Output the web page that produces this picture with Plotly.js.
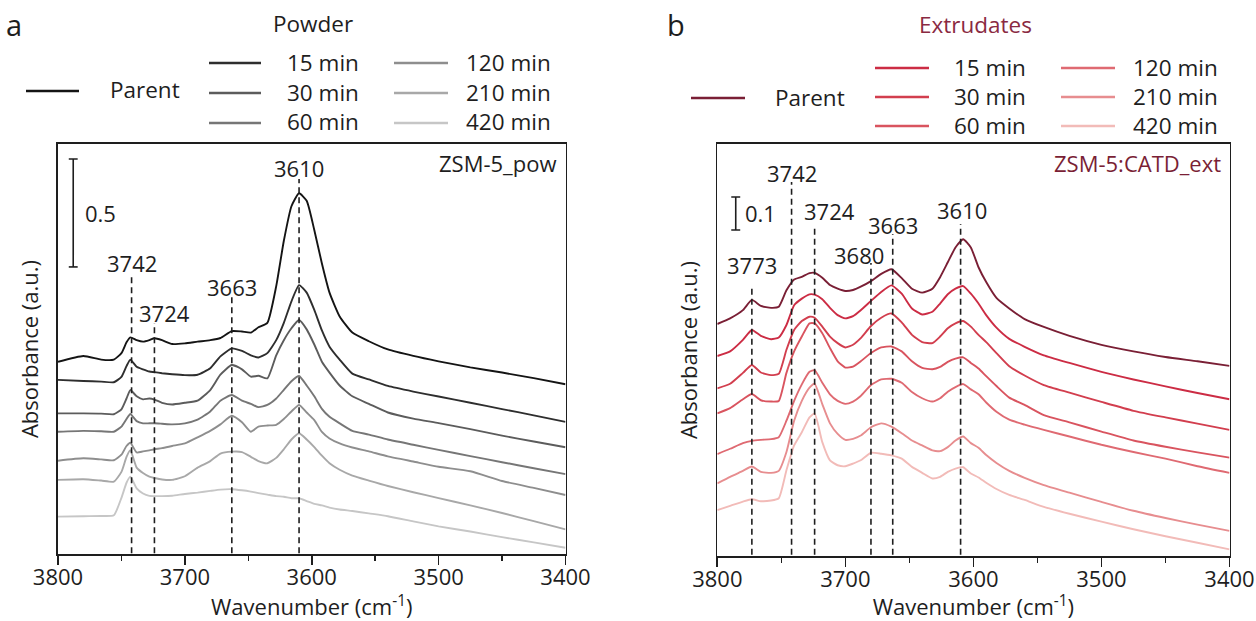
<!DOCTYPE html>
<html><head><meta charset="utf-8">
<script src="https://cdn.plot.ly/plotly-3.0.1.min.js"></script>
<style>html,body{margin:0;padding:0;background:#fff}#chart{width:1256px;height:621px}</style>
</head><body><div id="chart"></div>
<script>
// ---------- data: panel a (Powder) ----------
const wnA = [3800,3780,3766,3756,3750,3746,3743,3738,3733,3728,3724,3718,3710,3700,3690,3680,3672,3663,3655,3648,3642,3635,3628,3622,3616,3610,3604,3598,3592,3586,3578,3568,3555,3540,3520,3500,3475,3450,3425,3400];
const parentA = [0.89,0.917,0.90,0.90,0.93,0.98,1.003,0.99,0.983,0.99,0.999,0.99,0.972,0.975,0.983,0.99,1.00,1.032,1.03,1.025,1.05,1.07,1.24,1.45,1.61,1.67,1.635,1.50,1.345,1.21,1.10,1.025,0.985,0.947,0.917,0.892,0.864,0.84,0.814,0.786];
const min15A = [0.806,0.801,0.798,0.795,0.82,0.87,0.90,0.867,0.855,0.845,0.842,0.837,0.832,0.828,0.83,0.86,0.915,0.952,0.94,0.92,0.91,0.93,0.99,1.07,1.17,1.245,1.21,1.13,1.035,0.96,0.90,0.835,0.808,0.778,0.752,0.729,0.70,0.671,0.642,0.612];
const min30A = [0.651,0.651,0.65,0.647,0.67,0.72,0.759,0.73,0.716,0.72,0.715,0.70,0.692,0.70,0.71,0.759,0.83,0.875,0.855,0.821,0.825,0.813,0.92,0.99,1.045,1.083,1.04,0.97,0.89,0.84,0.78,0.73,0.695,0.655,0.627,0.606,0.578,0.548,0.521,0.494];
const min60A = [0.566,0.57,0.568,0.566,0.59,0.625,0.648,0.615,0.605,0.605,0.605,0.603,0.60,0.605,0.622,0.66,0.71,0.736,0.71,0.695,0.68,0.69,0.72,0.76,0.80,0.824,0.78,0.73,0.672,0.635,0.605,0.57,0.553,0.53,0.506,0.482,0.453,0.425,0.397,0.37];
const min120A = [0.432,0.443,0.438,0.434,0.46,0.50,0.515,0.47,0.475,0.48,0.485,0.49,0.50,0.512,0.54,0.57,0.60,0.64,0.61,0.566,0.59,0.595,0.598,0.625,0.66,0.69,0.655,0.62,0.565,0.535,0.512,0.493,0.475,0.452,0.428,0.404,0.383,0.338,0.306,0.273];
const min210A = [0.343,0.346,0.34,0.335,0.38,0.45,0.481,0.40,0.375,0.358,0.352,0.345,0.343,0.36,0.40,0.43,0.465,0.474,0.472,0.45,0.43,0.42,0.445,0.485,0.53,0.559,0.53,0.495,0.455,0.42,0.39,0.363,0.34,0.315,0.286,0.259,0.225,0.19,0.152,0.114];
const min420A = [0.173,0.175,0.176,0.179,0.26,0.33,0.358,0.304,0.28,0.269,0.268,0.268,0.27,0.278,0.284,0.292,0.298,0.30,0.295,0.289,0.282,0.275,0.268,0.265,0.258,0.258,0.245,0.232,0.225,0.215,0.206,0.199,0.188,0.175,0.151,0.128,0.104,0.078,0.054,0.029];

// ---------- data: panel b (Extrudates) ----------
const wnB = [3800,3790,3780,3773,3766,3758,3752,3746,3740,3734,3728,3724,3718,3712,3706,3700,3694,3688,3680,3672,3664,3656,3648,3640,3632,3626,3620,3614,3608,3602,3596,3590,3582,3572,3560,3545,3525,3500,3475,3450,3425,3400];
const parentB = [0.703,0.72,0.745,0.776,0.758,0.752,0.755,0.805,0.838,0.846,0.857,0.858,0.843,0.821,0.81,0.803,0.806,0.816,0.833,0.855,0.869,0.842,0.81,0.798,0.81,0.845,0.89,0.935,0.96,0.935,0.875,0.83,0.782,0.75,0.718,0.694,0.667,0.64,0.62,0.603,0.59,0.576];
const min15B = [0.606,0.62,0.655,0.685,0.667,0.657,0.662,0.70,0.76,0.78,0.793,0.792,0.778,0.752,0.73,0.72,0.727,0.745,0.773,0.80,0.82,0.795,0.75,0.732,0.74,0.765,0.793,0.81,0.818,0.795,0.765,0.73,0.692,0.658,0.634,0.608,0.585,0.558,0.535,0.514,0.494,0.475];
const min30B = [0.508,0.522,0.555,0.579,0.556,0.548,0.552,0.625,0.685,0.712,0.725,0.722,0.695,0.665,0.645,0.632,0.64,0.66,0.697,0.722,0.735,0.708,0.67,0.648,0.645,0.665,0.69,0.705,0.712,0.695,0.67,0.648,0.615,0.575,0.547,0.518,0.495,0.467,0.44,0.42,0.401,0.382];
const min60B = [0.432,0.448,0.475,0.491,0.472,0.468,0.47,0.555,0.62,0.665,0.705,0.705,0.675,0.63,0.59,0.571,0.574,0.59,0.615,0.632,0.635,0.62,0.59,0.57,0.566,0.573,0.588,0.598,0.602,0.585,0.568,0.545,0.515,0.48,0.458,0.427,0.405,0.377,0.35,0.331,0.314,0.298];
const min120B = [0.309,0.325,0.342,0.349,0.352,0.354,0.36,0.41,0.47,0.52,0.558,0.563,0.525,0.49,0.47,0.461,0.468,0.485,0.518,0.535,0.537,0.525,0.497,0.478,0.468,0.478,0.498,0.512,0.521,0.505,0.49,0.465,0.437,0.413,0.398,0.382,0.362,0.337,0.315,0.295,0.272,0.252];
const min210B = [0.22,0.24,0.258,0.271,0.255,0.252,0.258,0.315,0.41,0.47,0.51,0.522,0.46,0.402,0.37,0.352,0.355,0.365,0.39,0.402,0.392,0.372,0.35,0.335,0.32,0.318,0.33,0.35,0.362,0.342,0.328,0.306,0.282,0.258,0.237,0.215,0.192,0.164,0.137,0.115,0.095,0.076];
const min420B = [0.139,0.152,0.165,0.172,0.166,0.168,0.175,0.26,0.335,0.375,0.42,0.432,0.345,0.29,0.275,0.272,0.28,0.29,0.313,0.31,0.305,0.295,0.27,0.252,0.235,0.24,0.255,0.265,0.269,0.25,0.238,0.222,0.203,0.185,0.17,0.149,0.128,0.104,0.081,0.06,0.04,0.02];

const seriesNames = ['Parent','15 min','30 min','60 min','120 min','210 min','420 min'];
const peaksA = [3742,3724,3663,3610];
const peaksB = [3773,3742,3724,3680,3663,3610];
const xTickVals = [3800,3700,3600,3500,3400];
const scaleBarA = 0.5;
const scaleBarB = 0.1;

// ---------- styling / positions ----------
const colorsA = ['#141414','#2e2e2e','#5c5c5c','#767676','#8e8e8e','#a8a8a8','#c6c6c6'];
const colorsB = ['#7a1f35','#cc2c44','#d23e4e','#d9545f','#df6a72','#e78d8f','#f2bbb8'];
const W = 1256, H = 621;
const px = v => v / W, py = v => 1 - v / H;
const FONT = 'Open Sans, Noto Sans, sans-serif';
const INK = '#1e1e1e';
const FS = 22;      // general text size
const FS_LEG = 22.5;  // legend text size

const seriesA = [parentA, min15A, min30A, min60A, min120A, min210A, min420A];
const seriesB = [parentB, min15B, min30B, min60B, min120B, min210B, min420B];

const traces = [];
seriesA.forEach((ys, i) => traces.push({x: wnA, y: ys, xaxis: 'x', yaxis: 'y', mode: 'lines', name: seriesNames[i],
  line: {color: colorsA[i], width: 1.9, shape: 'spline', smoothing: 0.5}, hoverinfo: 'x+y+name'}));
seriesB.forEach((ys, i) => traces.push({x: wnB, y: ys, xaxis: 'x2', yaxis: 'y2', mode: 'lines', name: seriesNames[i],
  line: {color: colorsB[i], width: 1.9, shape: 'spline', smoothing: 0.5}, hoverinfo: 'x+y+name'}));

// peak line tops / label placement (data units of each panel)
const peakTopA = [1.282, 1.069, 1.19, 1.736];
const peakLabYA = [1.347, 1.116, 1.236, 1.787];
const peakLabDxA = [0, 10, 0, 0];
const peakTopB = [0.821, 1.133, 1.0, 0.888, 0.976, 1.006];
const peakLabYB = [0.882, 1.161, 1.045, 0.912, 1.003, 1.048];
const peakLabDxB = [0, 0, 15, -12, 0, 1];

const shapes = [];
const annotations = [];
function txt(o) { // text helper: explicit anchors
  return Object.assign({showarrow: false, xanchor: 'center', yanchor: 'middle'}, o);
}
const dash = {color: '#1e1e1e', width: 1.6, dash: '6px,4px'};
peaksA.forEach((p, i) => {
  shapes.push({type: 'line', xref: 'x', yref: 'y', x0: p, x1: p, y0: 0.004, y1: peakTopA[i], line: dash});
  annotations.push(txt({xref: 'x', yref: 'y', x: p, y: peakLabYA[i], xshift: peakLabDxA[i], text: String(p), font: {size: FS}}));
});
peaksB.forEach((p, i) => {
  shapes.push({type: 'line', xref: 'x2', yref: 'y2', x0: p, x1: p, y0: 0.004, y1: peakTopB[i], line: dash});
  annotations.push(txt({xref: 'x2', yref: 'y2', x: p, y: peakLabYB[i], xshift: peakLabDxB[i], text: String(p), font: {size: FS}}));
});

// scale bars
function scaleBar(xr, yr, xc, ybot, val, capHalf, txtX) {
  const ln = {color: '#1e1e1e', width: 1.6};
  shapes.push({type: 'line', xref: xr, yref: yr, x0: xc, x1: xc, y0: ybot, y1: ybot + val, line: ln});
  shapes.push({type: 'line', xref: xr, yref: yr, x0: xc + capHalf, x1: xc - capHalf, y0: ybot, y1: ybot, line: ln});
  shapes.push({type: 'line', xref: xr, yref: yr, x0: xc + capHalf, x1: xc - capHalf, y0: ybot + val, y1: ybot + val, line: ln});
  annotations.push(txt({xref: xr, yref: yr, x: txtX, y: ybot + val / 2, xanchor: 'left', text: String(val), font: {size: FS}}));
}
scaleBar('x', 'y', 3788, 1.329, scaleBarA, 3.5, 3780.5);
scaleBar('x2', 'y2', 3785.6, 0.988, scaleBarB, 3.5, 3779.7);

// sample labels inside frames
annotations.push(txt({xref: 'paper', yref: 'paper', x: px(558), y: py(163), xanchor: 'right', text: 'ZSM-5_pow', font: {size: FS}}));
annotations.push(txt({xref: 'paper', yref: 'paper', x: px(1223), y: py(163), xanchor: 'right', text: 'ZSM-5:CATD_ext', font: {size: FS, color: '#7a1f35'}}));

// panel letters and legend titles
annotations.push(txt({xref: 'paper', yref: 'paper', x: px(14), y: py(25), text: 'a', font: {size: 29}}));
annotations.push(txt({xref: 'paper', yref: 'paper', x: px(676), y: py(25), text: 'b', font: {size: 29}}));
annotations.push(txt({xref: 'paper', yref: 'paper', x: px(312.5), y: py(24), text: 'Powder', font: {size: FS_LEG}}));
annotations.push(txt({xref: 'paper', yref: 'paper', x: px(975), y: py(25), text: 'Extrudates', font: {size: FS_LEG, color: '#8a2a42'}}));

// custom legends (line sample + label) built from series names/colours
function legendBlock(colors, cfg) {
  const place = (i) => {
    if (i === 0) return [cfg.pLine, cfg.pText, cfg.pY];
    const col = i <= 3 ? 0 : 1;
    const row = (i - 1) % 3;
    return [cfg.cols[col].line, cfg.cols[col].text, cfg.rows[row]];
  };
  seriesNames.forEach((name, i) => {
    const [ln, tx, y] = place(i);
    shapes.push({type: 'line', xref: 'paper', yref: 'paper', x0: px(ln[0]), x1: px(ln[1]), y0: py(y), y1: py(y), line: {color: colors[i], width: 2.4}});
    annotations.push(txt({xref: 'paper', yref: 'paper', x: px(tx), y: py(y - 1), xanchor: 'left', text: name, font: {size: FS_LEG}}));
  });
}
legendBlock(colorsA, {pLine: [26, 79], pText: 108, pY: 91,
  cols: [{line: [209, 261], text: 285}, {line: [394, 448], text: 464}], rows: [63, 93, 123]});
legendBlock(colorsB, {pLine: [691, 745], pText: 773, pY: 98,
  cols: [{line: [875, 929], text: 952}, {line: [1061, 1115], text: 1131}], rows: [68, 97, 126]});

const axCommonX = {
  range: [3800, 3400], tickvals: xTickVals, ticks: 'outside', ticklen: 9, tickwidth: 1.6, tickcolor: '#1e1e1e',
  showline: true, linewidth: 1.6, linecolor: '#1e1e1e', mirror: true, showgrid: false, zeroline: false,
  tickfont: {size: FS, color: INK}, ticklabelstandoff: -6,
  minor: {dtick: 50, ticks: 'outside', ticklen: 5, tickwidth: 1.6, tickcolor: '#1e1e1e', showgrid: false},
  title: {text: 'Wavenumber (cm<sup>-1</sup>)', font: {size: FS, color: INK}, standoff: 5}
};
const axCommonY = {
  showline: true, linewidth: 1.6, linecolor: '#1e1e1e', mirror: true, ticks: '', showticklabels: false,
  showgrid: false, zeroline: false,
  title: {text: 'Absorbance (a.u.)', font: {size: FS, color: INK}, standoff: 12}
};

const layout = {
  width: W, height: H, margin: {l: 0, r: 0, t: 0, b: 0},
  paper_bgcolor: '#ffffff', plot_bgcolor: '#ffffff', showlegend: false,
  font: {family: FONT, size: FS, color: INK},
  xaxis: Object.assign({}, axCommonX, {domain: [px(58), px(565.5)], anchor: 'y'}),
  yaxis: Object.assign({}, axCommonY, {domain: [1 - 554 / H, 1 - 144 / H], range: [0, 410 / 216], anchor: 'x'}),
  xaxis2: Object.assign({}, axCommonX, {domain: [px(717.3), px(1229.5)], anchor: 'y2'}),
  yaxis2: Object.assign({}, axCommonY, {domain: [1 - 556 / H, 1 - 144 / H], range: [0, 412 / 330], anchor: 'x2'}),
  shapes: shapes,
  annotations: annotations
};

Plotly.newPlot('chart', traces, layout, {displayModeBar: false, staticPlot: true});
</script>
</body></html>
